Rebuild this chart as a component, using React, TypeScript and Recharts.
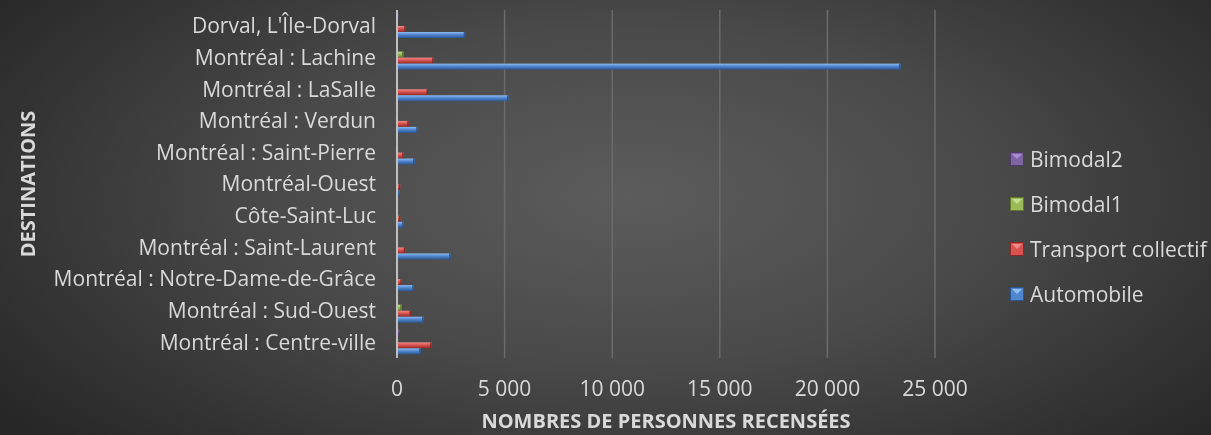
import { Bar, BarChart, CartesianGrid, XAxis, YAxis } from "recharts";

const destinations = [
  "Dorval, L'Île-Dorval",
  "Montréal : Lachine",
  "Montréal : LaSalle",
  "Montréal : Verdun",
  "Montréal : Saint-Pierre",
  "Montréal-Ouest",
  "Côte-Saint-Luc",
  "Montréal : Saint-Laurent",
  "Montréal : Notre-Dame-de-Grâce",
  "Montréal : Sud-Ouest",
  "Montréal : Centre-ville",
];

const automobile = [3170, 23400, 5180, 960, 820, 130, 310, 2490, 780, 1240, 1100];
const transportCollectif = [400, 1700, 1440, 550, 310, 150, 150, 380, 220, 650, 1610];
const bimodal1 = [30, 300, 20, 20, 10, 0, 0, 20, 30, 220, 20];
const bimodal2 = [60, 20, 10, 10, 10, 0, 0, 30, 50, 10, 130];

const xTicks = [0, 5000, 10000, 15000, 20000, 25000];

const data = destinations.map((name, i) => ({
  name,
  automobile: automobile[i],
  transport: transportCollectif[i],
  bimodal1: bimodal1[i],
  bimodal2: bimodal2[i],
}));

const series = [
  { key: "bimodal2", label: "Bimodal2", id: "gPurple", light: "#a88bd0", mid: "#8064a2", dark: "#4f3a6b" },
  { key: "bimodal1", label: "Bimodal1", id: "gGreen", light: "#c4e08a", mid: "#9bbb59", dark: "#5f7a2c" },
  { key: "transport", label: "Transport collectif", id: "gRed", light: "#f08a88", mid: "#d9524f", dark: "#8c2a28" },
  { key: "automobile", label: "Automobile", id: "gBlue", light: "#8fbcf0", mid: "#4f86cf", dark: "#2c568f" },
];

const fmt = (v: number) => String(v).replace(/\B(?=(\d{3})+(?!\d))/g, " ");

const font = "'Open Sans', Lato, sans-serif";
const textColor = "#d9d9d9";

function BevelBar(props: any) {
  const { x, y, width, height, fill, darkColor } = props;
  if (!width || width <= 0) return null;
  return (
    <g>
      <rect x={x} y={y} width={width} height={height} fill={fill} />
      <rect x={x + width - 1.5} y={y} width={1.5} height={height} fill={darkColor} />
    </g>
  );
}

function LegendBox() {
  return (
    <div
      style={{
        position: "absolute",
        left: 1010,
        top: 136,
        fontFamily: font,
        fontSize: 21,
        color: textColor,
        whiteSpace: "nowrap",
      }}
    >
      {series.map((s) => (
        <div key={s.key} style={{ display: "flex", alignItems: "center", height: 45 }}>
          <svg width={14} height={14} style={{ marginRight: 6 }}>
            <rect x={0} y={0} width={14} height={14} fill={s.dark} />
            <rect x={1} y={1} width={12} height={12} fill={s.mid} />
            <polygon points="2,2 12,2 7,7" fill={s.light} />
          </svg>
          <span>{s.label}</span>
        </div>
      ))}
    </div>
  );
}

export default function App() {
  return (
    <div
      style={{
        position: "fixed",
        left: 0,
        top: 0,
        width: 1211,
        height: 435,
        overflow: "hidden",
        background:
          "radial-gradient(ellipse 65% 85% at 52% 45%, #5c5c5c 0%, #4a4a4a 45%, #333333 80%, #262626 100%)",
        fontFamily: font,
      }}
    >
      <BarChart
        width={1211}
        height={435}
        data={data}
        layout="vertical"
        margin={{ top: 10, right: 276, bottom: 0, left: 0 }}
        barGap={0}
        barSize={6}
      >
        <defs>
          {series.map((s) => (
            <linearGradient key={s.id} id={s.id} x1="0" y1="0" x2="0" y2="1">
              <stop offset="0%" stopColor={s.light} />
              <stop offset="45%" stopColor={s.mid} />
              <stop offset="100%" stopColor={s.dark} />
            </linearGradient>
          ))}
        </defs>
        <CartesianGrid horizontal={false} stroke="#6b6b6b" strokeWidth={1.5} />
        <XAxis
          type="number"
          domain={[0, 25000]}
          ticks={xTicks}
          tickFormatter={fmt}
          axisLine={false}
          tickLine={false}
          tickMargin={17}
          height={77}
          tick={{ fill: textColor, fontSize: 21, fontFamily: font }}
          label={{
            value: "NOMBRES DE PERSONNES RECENSÉES",
            position: "insideBottom",
            offset: 7,
            fill: textColor,
            fontSize: 20,
            fontWeight: 700,
            fontFamily: font,
          }}
        />
        <YAxis
          type="category"
          dataKey="name"
          width={397}
          axisLine={{ stroke: "#bfbfbf", strokeWidth: 2 }}
          tickLine={false}
          tickMargin={15}
          interval={0}
          tick={{ fill: textColor, fontSize: 21, fontFamily: font }}
          label={{
            value: "DESTINATIONS",
            angle: -90,
            position: "insideLeft",
            offset: 28,
            fill: textColor,
            fontSize: 20,
            fontWeight: 700,
            fontFamily: font,
            style: { textAnchor: "middle" },
          }}
        />
        {series.map((s) => (
          <Bar
            key={s.key}
            dataKey={s.key}
            name={s.label}
            fill={`url(#${s.id})`}
            isAnimationActive={false}
            shape={(p: any) => <BevelBar {...p} darkColor={s.dark} />}
          />
        ))}
      </BarChart>
      <LegendBox />
    </div>
  );
}
